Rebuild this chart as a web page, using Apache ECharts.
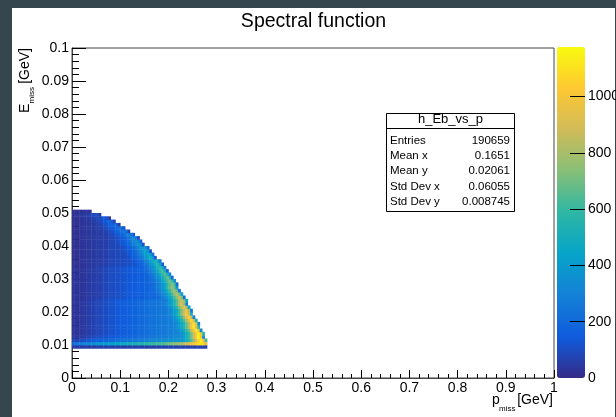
<!DOCTYPE html>
<html><head><meta charset="utf-8">
<script src="https://cdn.jsdelivr.net/npm/echarts@6/dist/echarts.min.js"></script>
<style>html,body{margin:0;padding:0;background:#36464e}#c{width:616px;height:417px}</style>
</head><body><div id="c"></div>
<script>
// ---- data ----
const titleText = 'Spectral function';
const xTickLabels = ['0','0.1','0.2','0.3','0.4','0.5','0.6','0.7','0.8','0.9','1'];
const zTickValues = [0, 200, 400, 600, 800, 1000];
const zMax = 1176;
const statLabels = ['Entries', 'Mean x', 'Mean y', 'Std Dev x', 'Std Dev y'];
const statValues = ['190659', '0.1651', '0.02061', '0.06055', '0.008745'];
const P_BIN = 0.005;          // bin width in p_miss [GeV]
const E_BIN = 0.001;          // bin height in E_miss [GeV]
const E_FIRST_ROW = 0.009;    // lower edge of the first (bottom) row
// bin contents in units of 10 entries; one row per E_miss bin (bottom row first), each row starts at p = 0
const countsTens = [
 [5,5,5,5,5,5,5,5,5,5,6,6,6,6,6,6,6,6,6,6,6,6,6,6,6,6,6,6,6,6,6,6,6,6,6,6,7,7,7,7,7,7,7,7,7,7,7,7,7,7,7,7,7,7,7,7],
 [20,24,26,28,30,31,32,33,34,36,37,38,39,40,41,42,43,44,45,46,47,48,49,50,51,52,53,54,55,56,57,58,59,60,61,62,63,64,66,68,70,72,74,76,78,80,84,88,92,96,100,105,110,112,106,96],
 [8,8,8,10,10,10,14,14,14,16,16,16,18,18,18,20,20,20,22,22,22,24,24,24,26,26,26,28,28,28,30,30,30,32,32,32,34,34,34,36,36,36,38,38,38,38,43,48,55,64,76,90,104,115,98,63],
 [4,4,4,5,5,5,8,8,8,10,10,10,12,12,12,14,14,14,16,16,16,18,18,18,20,20,20,22,22,22,24,24,24,26,26,26,28,28,28,30,30,30,32,32,32,36,42,49,59,70,87,103,117,99,33],
 [3,3,3,4,4,4,6,6,6,8,8,8,10,10,10,12,12,12,14,14,14,16,16,16,18,18,18,20,20,20,22,22,22,24,24,24,26,26,26,28,28,28,30,30,31,36,42,49,58,70,86,102,116,99,58],
 [3,3,3,4,4,4,6,6,6,8,8,8,10,10,10,12,12,12,14,14,14,16,16,16,18,18,18,20,20,20,22,22,22,24,24,24,26,26,26,28,28,28,30,31,35,41,48,57,68,84,100,114,97,32],
 [3,3,3,4,4,4,6,6,6,8,8,8,10,10,10,12,12,12,14,14,14,16,16,16,18,18,18,20,20,20,22,22,22,24,24,24,26,26,26,28,28,28,30,35,40,47,56,67,83,99,112,95,56],
 [3,3,3,4,4,4,6,6,6,8,8,8,10,10,10,12,12,12,14,14,14,16,16,16,18,18,18,20,20,20,22,22,22,24,24,24,26,26,26,28,28,28,30,34,40,46,55,66,81,97,110,94,31],
 [3,3,3,4,4,4,6,6,6,8,8,8,10,10,10,12,12,12,14,14,14,16,16,16,18,18,18,20,20,20,22,22,22,24,24,24,26,26,26,28,28,29,33,39,45,54,64,79,94,107,91,54],
 [3,3,3,4,4,4,6,6,6,8,8,8,10,10,10,12,12,12,14,14,14,16,16,16,18,18,18,20,20,20,22,22,22,24,24,24,26,26,26,28,28,32,37,44,52,62,77,92,104,88,29],
 [3,3,3,4,4,4,6,6,6,8,8,8,10,10,10,12,12,12,14,14,14,16,16,16,18,18,18,20,20,20,22,22,22,24,24,24,26,26,26,28,31,36,42,51,61,75,89,101,86,50],
 [3,3,3,4,4,4,6,6,6,8,8,8,10,10,10,12,12,12,14,14,14,16,16,16,18,18,18,20,20,20,22,22,22,24,24,24,26,26,26,28,30,35,41,49,59,73,86,98,83,27],
 [3,3,3,4,4,4,6,6,6,8,8,8,10,10,10,12,12,12,14,14,14,16,16,16,18,18,18,20,20,20,22,22,22,24,24,24,26,26,26,30,34,40,48,57,70,84,95,81,48],
 [3,3,3,4,4,4,6,6,6,8,8,8,10,10,10,12,12,12,14,14,14,16,16,16,18,18,18,20,20,20,22,22,22,24,24,24,26,26,29,33,39,46,55,68,81,92,78,26],
 [3,3,3,4,4,4,6,6,6,8,8,8,10,10,10,12,12,12,14,14,14,16,16,16,18,18,18,20,20,20,22,22,22,24,24,24,26,26,28,32,37,45,53,66,78,89,76,44],
 [3,3,3,3,3,3,5,5,5,6,6,6,8,8,8,10,10,10,11,11,11,13,13,13,15,15,15,16,16,16,18,18,18,19,19,19,23,27,31,36,43,52,64,76,86,73,24],
 [3,3,3,3,3,3,5,5,5,6,6,6,8,8,8,10,10,10,11,11,11,13,13,13,15,15,15,16,16,16,18,18,18,19,19,22,26,30,35,42,50,61,73,83,71,42],
 [3,3,3,3,3,3,5,5,5,6,6,6,8,8,8,10,10,10,11,11,11,13,13,13,15,15,15,16,16,16,18,18,18,19,22,25,29,34,40,48,59,70,80,68,22],
 [3,3,3,3,3,3,5,5,5,6,6,6,8,8,8,10,10,10,11,11,11,13,13,13,15,15,15,16,16,16,18,18,18,21,24,28,32,38,46,57,68,77,65,38],
 [3,3,3,3,3,3,5,5,5,6,6,6,8,8,8,10,10,10,11,11,11,13,13,13,15,15,15,16,16,16,18,18,18,20,23,27,31,37,44,55,65,74,63,21],
 [3,3,3,3,3,3,5,5,5,6,6,6,8,8,8,10,10,10,11,11,11,13,13,13,15,15,15,16,16,16,18,18,19,22,26,30,36,43,53,62,71,60,36],
 [3,3,3,3,3,3,5,5,5,6,6,6,8,8,8,10,10,10,11,11,11,13,13,13,15,15,15,16,16,16,18,18,21,24,29,34,41,50,60,68,58,19],
 [3,3,3,3,3,3,5,5,5,6,6,6,8,8,8,10,10,10,11,11,11,13,13,13,15,15,15,16,16,16,18,20,23,27,33,39,48,57,65,55,32],
 [3,3,3,3,3,3,5,5,5,6,6,6,8,8,8,10,10,10,11,11,11,13,13,13,15,15,15,16,16,17,19,22,26,31,37,46,55,62,53,17],
 [3,3,3,3,3,3,5,5,5,6,6,6,8,8,8,10,10,10,11,11,11,13,13,13,15,15,15,16,16,18,21,25,30,35,44,52,59,50,30],
 [2,2,2,3,3,3,4,4,4,5,5,5,6,6,6,8,8,8,9,9,9,10,10,10,12,12,12,15,17,20,24,28,34,41,49,56,48,16],
 [2,2,2,3,3,3,4,4,4,5,5,5,6,6,6,8,8,8,9,9,9,10,10,10,12,12,14,16,19,22,27,32,39,47,53,45,26],
 [2,2,2,3,3,3,4,4,4,5,5,5,6,6,6,8,8,8,9,9,9,10,10,10,14,16,18,21,25,30,37,44,50,43,14],
 [2,2,2,3,3,3,4,4,4,5,5,5,6,6,6,8,8,8,9,9,9,10,10,13,15,17,20,24,28,35,41,47,40,24],
 [2,2,2,3,3,3,4,4,4,5,5,5,6,6,6,8,8,8,9,9,9,10,12,14,16,18,22,26,33,39,44,37,12],
 [2,2,2,3,3,3,4,4,4,5,5,5,6,6,6,8,8,8,9,9,9,11,13,15,17,20,25,30,36,41,35,20],
 [2,2,2,3,3,3,4,4,4,5,5,5,6,6,6,8,8,8,9,10,12,14,16,19,23,28,33,38,32,11],
 [2,2,2,3,3,3,4,4,4,5,5,5,6,6,6,8,8,8,10,11,13,15,18,21,26,31,35,30,18],
 [2,2,2,3,3,3,4,4,4,5,5,5,6,6,6,8,8,9,10,12,13,16,19,24,28,32,27,9],
 [2,2,2,3,3,3,4,4,4,5,5,5,6,6,6,8,9,10,12,15,17,21,26,29,25,14],
 [2,2,2,3,3,3,4,4,4,5,5,5,6,7,8,9,11,13,16,19,23,26,22,7],
 [2,2,2,3,3,3,4,4,4,5,5,6,7,8,10,12,14,17,20,23,20,12],
 [2,2,2,3,3,3,4,4,4,5,6,7,8,10,12,15,18,20,17,6],
 [2,2,2,3,3,3,4,5,5,6,7,9,10,13,15,17,14,8],
 [2,2,2,3,3,4,4,5,6,7,8,10,12,14,12,4],
 [2,3,3,4,4,5,6,7,9,10,9,5],
 [2,2,2,2,3,3,3,2]
];
// ROOT kBird palette stops
const birdColors = ['#352a87','#0f5cdd','#1481d6','#06a4ca','#2eb7a4','#87bf77','#d1bb59','#fec832','#f9fb0e'];

// ---- build ----
const cells = [];
countsTens.forEach((row, j) => {
  const eLow = (Math.round(E_FIRST_ROW * 1000) + j) / 1000;
  row.forEach((v, i) => {
    cells.push([Math.round(i * P_BIN * 1000) / 1000, eLow, v * 10]);
  });
});

const FONT = 'Liberation Sans, Arial, Helvetica, sans-serif';
const chart = echarts.init(document.getElementById('c'), null, { renderer: 'canvas' });

const graphics = [
  { type: 'rect', z: -10, shape: { x: 12, y: 8, width: 603, height: 409 }, style: { fill: '#ffffff' } },
  { type: 'text', x: 313.5, y: 22, style: { text: titleText, fontFamily: FONT, fontSize: 19.5, fill: '#000', align: 'center', verticalAlign: 'middle' } },
  // x-axis title
  { type: 'text', x: 492, y: 400, style: { text: 'p', fontFamily: FONT, fontSize: 14, fill: '#000', align: 'left', verticalAlign: 'middle' } },
  { type: 'text', x: 499, y: 409, style: { text: 'miss', fontFamily: FONT, fontSize: 8, fill: '#000', align: 'left', verticalAlign: 'middle' } },
  { type: 'text', x: 553, y: 400, style: { text: '[GeV]', fontFamily: FONT, fontSize: 14, fill: '#000', align: 'right', verticalAlign: 'middle' } },
  // y-axis title (rotated)
  { type: 'group', x: 25, y: 113, rotation: Math.PI / 2, children: [
    { type: 'text', x: 0, y: 0, style: { text: 'E', fontFamily: FONT, fontSize: 14, fill: '#000', align: 'left', verticalAlign: 'middle' } },
    { type: 'text', x: 9.5, y: 7, style: { text: 'miss', fontFamily: FONT, fontSize: 8, fill: '#000', align: 'left', verticalAlign: 'middle' } },
    { type: 'text', x: 65, y: 0, style: { text: '[GeV]', fontFamily: FONT, fontSize: 14, fill: '#000', align: 'right', verticalAlign: 'middle' } }
  ]},
  // stats box
  { type: 'rect', z: 20, shape: { x: 386.5, y: 113.5, width: 128, height: 98 }, style: { fill: '#fff', stroke: '#000', lineWidth: 1 } },
  { type: 'line', z: 21, shape: { x1: 386.5, y1: 128.5, x2: 514.5, y2: 128.5 }, style: { stroke: '#000', lineWidth: 1 } },
  { type: 'text', z: 21, x: 450.5, y: 119.5, style: { text: 'h_Eb_vs_p', fontFamily: FONT, fontSize: 13, fill: '#000', align: 'center', verticalAlign: 'middle' } }
];
statLabels.forEach((lab, k) => {
  const y = 140.5 + k * 15.3;
  graphics.push({ type: 'text', z: 21, x: 390, y, style: { text: lab, fontFamily: FONT, fontSize: 11.5, fill: '#000', align: 'left', verticalAlign: 'middle' } });
  graphics.push({ type: 'text', z: 21, x: 510, y, style: { text: statValues[k], fontFamily: FONT, fontSize: 11.5, fill: '#000', align: 'right', verticalAlign: 'middle' } });
});

const option = {
  backgroundColor: '#36464e',
  animation: false,
  textStyle: { fontFamily: FONT },
  graphic: graphics,
  grid: [
    { left: 72, top: 48, width: 482, height: 330, show: true, borderColor: '#444', borderWidth: 1, backgroundColor: 'transparent', containLabel: false, outerBoundsMode: 'none' },
    { left: 585, top: 47, width: 10, height: 331, show: false, containLabel: false, outerBoundsMode: 'none' }
  ],
  xAxis: [
    { type: 'value', gridIndex: 0, min: 0, max: 1, interval: 0.1,
      axisLine: { show: true, lineStyle: { color: '#444', width: 1 } },
      axisTick: { show: true, inside: true, length: 8, lineStyle: { color: '#000' } },
      minorTick: { show: true, splitNumber: 5, length: 4, lineStyle: { color: '#000' } },
      splitLine: { show: false },
      axisLabel: { fontSize: 14, color: '#000', margin: 3, fontFamily: FONT,
        formatter: (v) => xTickLabels[Math.round(v * 10)] } },
    { type: 'value', gridIndex: 1, min: 0, max: 1, show: false }
  ],
  yAxis: [
    { type: 'value', gridIndex: 0, min: 0, max: 0.1, interval: 0.01,
      axisLine: { show: true, lineStyle: { color: '#444', width: 1 } },
      axisTick: { show: true, inside: true, length: 14, lineStyle: { color: '#000' } },
      minorTick: { show: true, splitNumber: 5, length: 7, lineStyle: { color: '#000' } },
      splitLine: { show: false },
      axisLabel: { fontSize: 14, color: '#000', margin: 3, fontFamily: FONT,
        formatter: (v) => String(Math.round(v * 100) / 100) } },
    { type: 'value', gridIndex: 1, min: 0, max: zMax, position: 'left', z: 10,
      axisLine: { show: false },
      axisTick: { show: true, inside: false, length: 15, lineStyle: { color: '#000' }, customValues: zTickValues.slice(1) },
      splitLine: { show: false },
      axisLabel: { inside: true, fontSize: 14, color: '#000', margin: 3, fontFamily: FONT, customValues: zTickValues,
        formatter: (v) => String(v) } }
  ],
  visualMap: {
    type: 'continuous', seriesIndex: 0, dimension: 2, min: 0, max: zMax, z: 1,
    calculable: false, realtime: false, left: 557, top: 47, padding: 0,
    itemWidth: 28, itemHeight: 331, text: null, showLabel: false,
    inRange: { color: birdColors }
  },
  series: [{
    type: 'custom', xAxisIndex: 0, yAxisIndex: 0, data: cells,
    encode: { x: 0, y: 1 },
    renderItem: (params, api) => {
      const p0 = api.value(0), e0 = api.value(1);
      const a = api.coord([p0, e0 + E_BIN]);
      const b = api.coord([p0 + P_BIN, e0]);
      return { type: 'rect', shape: { x: a[0], y: a[1], width: b[0] - a[0] + 0.4, height: b[1] - a[1] + 0.4 },
        style: { fill: api.visual('color') } };
    }
  }]
};
chart.setOption(option);
</script></body></html>
